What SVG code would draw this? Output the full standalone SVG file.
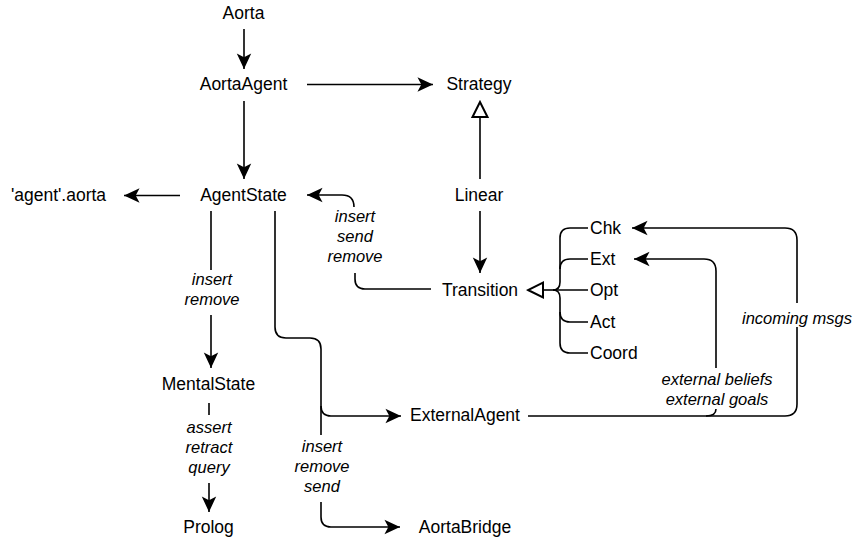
<svg xmlns="http://www.w3.org/2000/svg" width="856" height="542" viewBox="0 0 856 542">
<style>
  .n { font-family: "Liberation Sans", Arial, sans-serif; font-size: 17.5px; fill: #000; }
  .c { text-anchor: middle; }
  .l { font-family: "Liberation Sans", Arial, sans-serif; font-size: 16.5px; font-style: italic; fill: #000; text-anchor: middle; }
  .e { fill: none; stroke: #000; stroke-width: 1.6; }
  .a { marker-end: url(#arrow); }
  .h { marker-end: url(#hollow); }
</style>
<defs>
  <marker id="arrow" markerUnits="userSpaceOnUse" markerWidth="20" markerHeight="20" viewBox="-16 -8 18 16" refX="0" refY="0" orient="auto">
    <path d="M0,0 L-14,-6.5 L-10.5,0 L-14,6.5 Z" fill="#000"/>
  </marker>
  <marker id="hollow" markerUnits="userSpaceOnUse" markerWidth="20" markerHeight="20" viewBox="-14 -8 16 16" refX="0" refY="0" orient="auto">
    <path d="M0,0 L-12,-6 L-12,6 Z" fill="#fff" stroke="#000" stroke-width="1.6"/>
  </marker>
</defs>
<rect width="856" height="542" fill="#fff"/>

<g id="connectors">
  <path class="e a" d="M244,29 V69"/>
  <path class="e a" d="M307,84.5 H433"/>
  <path class="e a" d="M244,101 V179"/>
  <path class="e a" d="M180,195.5 H124"/>
  <path class="e h" d="M480,179 V102"/>
  <path class="e a" d="M480,211 V273"/>
  <path class="e" d="M431,289 H365 Q355,289 355,279 V273"/>
  <path class="e a" d="M354,207 Q354,195 342,195 H307"/>
  <path class="e" d="M211,211 V270"/>
  <path class="e a" d="M211,315 V368"/>
  <path class="e" d="M209,403 V415"/>
  <path class="e a" d="M209,483 V512"/>
  <path class="e" d="M275,211 V327 Q275,338 286,338 H310 Q321,338 321,349 V435"/>
  <path class="e a" d="M321,406 Q321,416 331,416 H401"/>
  <path class="e a" d="M321,502 V517 Q321,527 331,527 H400"/>
  <path class="e" d="M528,416 H785 Q797,416 797,404 V327"/>
  <path class="e a" d="M797,303 V240 Q797,228 785,228 H632"/>
  <path class="e" d="M706,416 Q716,416 716,409"/>
  <path class="e a" d="M716,368 V271 Q716,259 704,259 H634"/>
  <path class="e h" d="M553,290 H528"/>
  <path class="e" d="M553,290 H588"/>
  <path class="e" d="M553,290 Q560,290 560,282 V238 Q560,228 570,228 H588"/>
  <path class="e" d="M560,269 Q560,259 570,259 H588"/>
  <path class="e" d="M553,290 Q560,290 560,298 V343 Q560,353 570,353 H588"/>
  <path class="e" d="M560,312 Q560,322 570,322 H588"/>
  <g id="labels">
    <text class="l" x="355" y="222">insert</text>
    <text class="l" x="355" y="242">send</text>
    <text class="l" x="355" y="262">remove</text>
    <text class="l" x="212" y="285">insert</text>
    <text class="l" x="212" y="305">remove</text>
    <text class="l" x="209" y="433">assert</text>
    <text class="l" x="209" y="453">retract</text>
    <text class="l" x="209" y="473">query</text>
    <text class="l" x="322" y="452">insert</text>
    <text class="l" x="322" y="472">remove</text>
    <text class="l" x="322" y="492">send</text>
    <text class="l" x="717" y="385">external beliefs</text>
    <text class="l" x="717" y="405">external goals</text>
    <text class="l" x="797" y="324">incoming msgs</text>
  </g>
</g>

<g id="Aorta"><text class="n c" x="243.5" y="18.5">Aorta</text></g>
<g id="AortaAgent"><text class="n c" x="243.5" y="90">AortaAgent</text></g>
<g id="Strategy"><text class="n c" x="479" y="90">Strategy</text></g>
<g id="AgentState"><text class="n c" x="243.5" y="201">AgentState</text></g>
<g id="agentAorta"><text class="n c" x="58.5" y="201">'agent'.aorta</text></g>
<g id="Linear"><text class="n c" x="479" y="201">Linear</text></g>
<g id="Transition"><text class="n c" x="480" y="296">Transition</text></g>
<g id="Chk"><text class="n" x="590" y="234">Chk</text></g>
<g id="Ext"><text class="n" x="590" y="265">Ext</text></g>
<g id="Opt"><text class="n" x="590" y="296">Opt</text></g>
<g id="Act"><text class="n" x="590" y="328">Act</text></g>
<g id="Coord"><text class="n" x="590" y="359">Coord</text></g>
<g id="MentalState"><text class="n c" x="208.5" y="390">MentalState</text></g>
<g id="ExternalAgent"><text class="n c" x="465" y="421">ExternalAgent</text></g>
<g id="Prolog"><text class="n c" x="208.5" y="533">Prolog</text></g>
<g id="AortaBridge"><text class="n c" x="465" y="533">AortaBridge</text></g>
</svg>
